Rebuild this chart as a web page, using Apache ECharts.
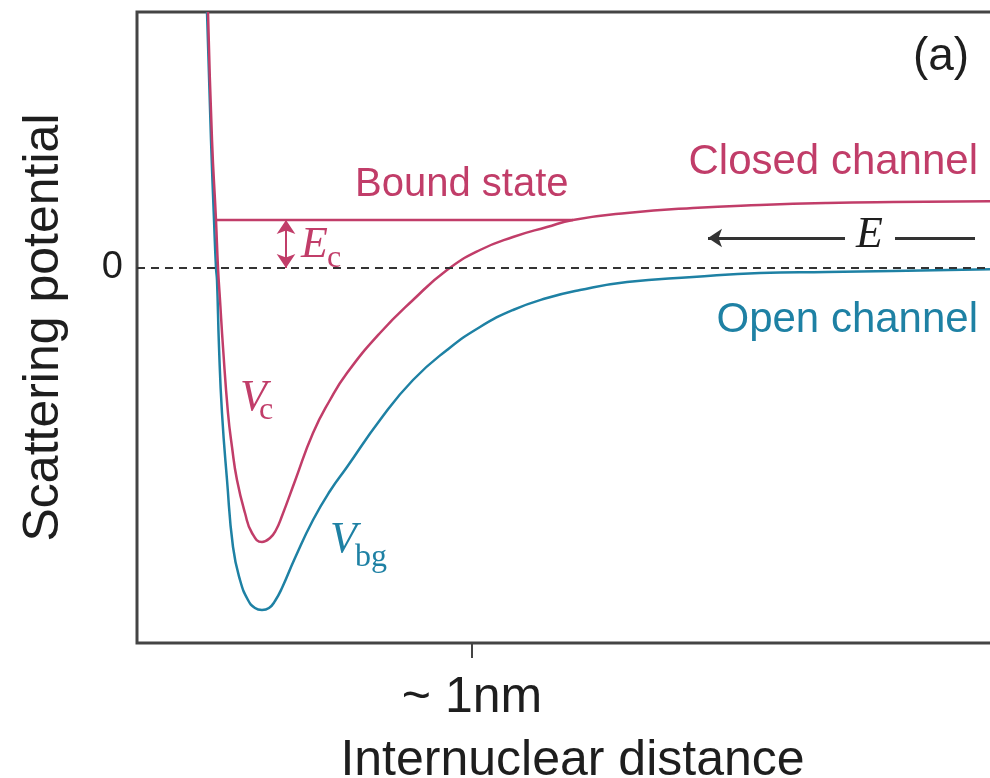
<!DOCTYPE html>
<html><head><meta charset="utf-8">
<script src="https://cdn.jsdelivr.net/npm/echarts@6/dist/echarts.min.js"></script>
<style>html,body{margin:0;padding:0;background:#fff}#c{width:990px;height:778px}</style>
</head><body><div id="c"></div>
<script>
// Internuclear distance (nm) and potential (arbitrary units)
const closedX = [0.2119, 0.2239, 0.2358, 0.2418, 0.2478, 0.2567, 0.2716, 0.2836, 0.2985, 0.3224, 0.3433, 0.3731, 0.3970, 0.4149, 0.4328, 0.4716, 0.5254, 0.5761, 0.6269, 0.7254, 0.8239, 0.9254, 1.0239, 1.1224, 1.2239, 1.3015, 1.4627, 1.6597, 1.8597, 2.0597, 2.2567, 2.6];
const closedY = [2.56, 1.28, 0.48, 0.00, -0.32, -0.79, -1.45, -1.79, -2.12, -2.45, -2.65, -2.74, -2.70, -2.62, -2.48, -2.13, -1.65, -1.32, -1.05, -0.65, -0.32, -0.02, 0.18, 0.31, 0.41, 0.48, 0.55, 0.60, 0.63, 0.65, 0.66, 0.67];
const openX = [0.2090, 0.2209, 0.2299, 0.2358, 0.2388, 0.2448, 0.2537, 0.2687, 0.2866, 0.3075, 0.3313, 0.3522, 0.3731, 0.3940, 0.4119, 0.4328, 0.4716, 0.5254, 0.5761, 0.6269, 0.7254, 0.8239, 0.9254, 1.0239, 1.1224, 1.2239, 1.3224, 1.4627, 1.6597, 1.8597, 2.0597, 2.2567, 2.6];
const openY = [2.56, 1.28, 0.48, 0.00, -0.12, -0.79, -1.45, -2.12, -2.79, -3.12, -3.32, -3.40, -3.42, -3.40, -3.33, -3.20, -2.90, -2.52, -2.23, -1.99, -1.52, -1.12, -0.82, -0.59, -0.42, -0.30, -0.22, -0.14, -0.09, -0.05, -0.04, -0.03, -0.01];
const boundX = [0.2358, 1.3015];
const boundE = 0.48;
const ecArrowX = 0.4448;
const eArrowY = 0.30;
const eArrowLeft = [2.1134, 1.7045];
const eArrowRight = [2.2627, 2.5015];
const xTickValues = [1];
const xTickLabels = {1: '~ 1nm'};
const yTickValues = [0];
const yTickLabels = {0: '0'};

const RED = '#c13d69', BLUE = '#1e81a4', INK = '#1e1e1e', AX = '#444';
const zip = (xs, ys) => xs.map((x, i) => [x, ys[i]]);

const chart = echarts.init(document.getElementById('c'), null, {renderer: 'canvas'});
chart.setOption({
  animation: false,
  backgroundColor: '#fff',
  grid: {left: 137, top: 12, width: 871, height: 631, outerBoundsMode: 'none', containLabel: false,
    show: true, borderColor: AX, borderWidth: 3, backgroundColor: 'transparent'},
  xAxis: {
    type: 'value', min: 0, max: 2.6,
    axisLine: {show: false, onZero: false},
    splitLine: {show: false},
    axisTick: {show: true, customValues: xTickValues, length: 15, inside: false, lineStyle: {color: AX, width: 2}},
    axisLabel: {customValues: xTickValues, formatter: v => xTickLabels[v] ?? '', fontSize: 50, color: INK, fontFamily: 'Liberation Sans', margin: 30},
    name: 'Internuclear distance', nameLocation: 'middle', nameGap: 93,
    nameTextStyle: {fontSize: 50, color: INK, fontFamily: 'Liberation Sans'}
  },
  yAxis: {
    type: 'value', min: -3.75, max: 2.56,
    axisLine: {show: false, onZero: false},
    splitLine: {show: false},
    axisTick: {show: false},
    axisLabel: {customValues: yTickValues, formatter: v => yTickLabels[v] ?? '', fontSize: 38, color: INK, fontFamily: 'Liberation Sans', margin: 14},
    name: 'Scattering potential', nameLocation: 'middle', nameGap: 68,
    nameTextStyle: {fontSize: 50, color: INK, fontFamily: 'Liberation Sans'}
  },
  series: [
    {type: 'line', name: 'zero', data: [], markLine: {silent: true, symbol: ['none', 'none'], label: {show: false},
      lineStyle: {type: [8, 6], color: '#333', width: 2}, data: [{yAxis: 0}]}},
    {type: 'line', name: 'Open channel', data: zip(openX, openY), showSymbol: false, smooth: 0.5, clip: true,
      lineStyle: {color: BLUE, width: 2.5}},
    {type: 'line', name: 'Closed channel', data: zip(closedX, closedY), showSymbol: false, smooth: 0.5, clip: true,
      lineStyle: {color: RED, width: 2.5}},
    {type: 'line', name: 'Bound state', data: boundX.map(x => [x, boundE]), showSymbol: false,
      lineStyle: {color: RED, width: 2.5}},
    {type: 'line', name: 'Ec', data: [], markLine: {silent: true, symbol: ['arrow', 'arrow'], symbolSize: 14, label: {show: false},
      lineStyle: {type: 'solid', color: RED, width: 2}, data: [[{coord: [ecArrowX, boundE]}, {coord: [ecArrowX, 0]}]]}},
    {type: 'line', name: 'E1', data: [], markLine: {silent: true, symbol: ['none', 'arrow'], symbolSize: 14, label: {show: false},
      lineStyle: {type: 'solid', color: '#333', width: 3}, data: [[{coord: [eArrowLeft[0], eArrowY]}, {coord: [eArrowLeft[1], eArrowY]}]]}},
    {type: 'line', name: 'E2', data: [], markLine: {silent: true, symbol: ['none', 'none'], label: {show: false},
      lineStyle: {type: 'solid', color: '#333', width: 3}, data: [[{coord: [eArrowRight[0], eArrowY]}, {coord: [eArrowRight[1], eArrowY]}]]}}
  ],
  graphic: [
    {type: 'text', x: 978, y: 162, style: {text: 'Closed channel', fill: RED, font: '42px "Liberation Sans"', align: 'right', verticalAlign: 'middle'}},
    {type: 'text', x: 978, y: 320, style: {text: 'Open channel', fill: BLUE, font: '42px "Liberation Sans"', align: 'right', verticalAlign: 'middle'}},
    {type: 'text', x: 355, y: 185, style: {text: 'Bound state', fill: RED, font: '40px "Liberation Sans"', align: 'left', verticalAlign: 'middle'}},
    {type: 'text', x: 941, y: 57, style: {text: '(a)', fill: INK, font: '46px "Liberation Sans"', align: 'center', verticalAlign: 'middle'}},
    {type: 'text', x: 240, y: 398, style: {text: 'V', fill: RED, font: 'italic 44px "Liberation Serif"', align: 'left', verticalAlign: 'middle'}},
    {type: 'text', x: 259, y: 411, style: {text: 'c', fill: RED, font: '32px "Liberation Serif"', align: 'left', verticalAlign: 'middle'}},
    {type: 'text', x: 330, y: 540, style: {text: 'V', fill: BLUE, font: 'italic 44px "Liberation Serif"', align: 'left', verticalAlign: 'middle'}},
    {type: 'text', x: 355, y: 558, style: {text: 'bg', fill: BLUE, font: '32px "Liberation Serif"', align: 'left', verticalAlign: 'middle'}},
    {type: 'text', x: 301, y: 245, style: {text: 'E', fill: RED, font: 'italic 44px "Liberation Serif"', align: 'left', verticalAlign: 'middle'}},
    {type: 'text', x: 327, y: 259, style: {text: 'c', fill: RED, font: '32px "Liberation Serif"', align: 'left', verticalAlign: 'middle'}},
    {type: 'text', x: 856, y: 235, style: {text: 'E', fill: INK, font: 'italic 44px "Liberation Serif"', align: 'left', verticalAlign: 'middle'}}
  ]
});
</script></body></html>
